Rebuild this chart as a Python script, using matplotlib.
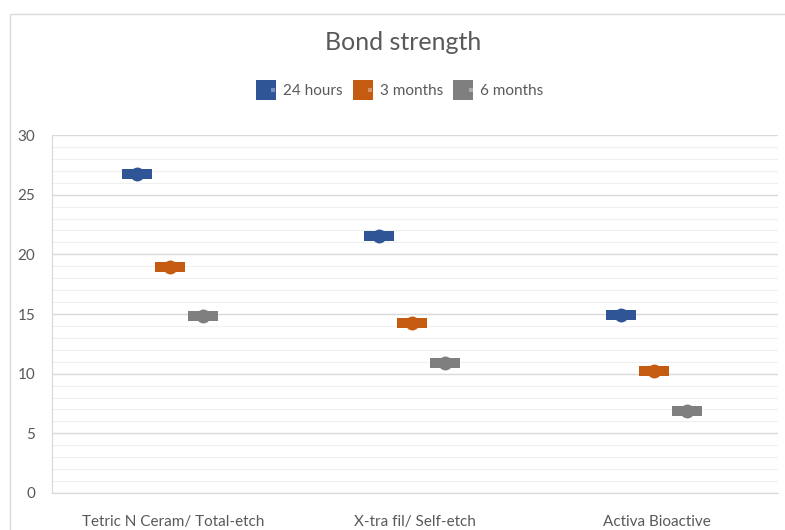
import matplotlib.pyplot as plt
import numpy as np
from matplotlib.path import Path
from matplotlib.lines import Line2D
from matplotlib.patches import Rectangle
from matplotlib.legend_handler import HandlerTuple

plt.rcParams['font.family'] = ['Lato', 'DejaVu Sans']

categories = ['Tetric N Ceram/ Total-etch', 'X-tra fil/ Self-etch', 'Activa Bioactive']
series = ['24 hours', '3 months', '6 months']
hours_24 = [26.7, 21.5, 14.9]
months_3 = [18.9, 14.25, 10.2]
months_6 = [14.8, 10.9, 6.9]
colors = ['#2F5597', '#C55A11', '#7F7F7F']

text_col = '#595959'
rect = Path([(-1.6, -0.5), (1.6, -0.5), (1.6, 0.5), (-1.6, 0.5), (-1.6, -0.5)],
            [Path.MOVETO, Path.LINETO, Path.LINETO, Path.LINETO, Path.CLOSEPOLY])

fig = plt.figure(figsize=(7.85, 5.30), dpi=100)
ax = fig.add_axes([52 / 785, 1 - 493 / 530, 726 / 785, 358 / 530])

# chart area border
fig.patches.append(Rectangle((10 / 785, -0.1), 1.2, 1.1 - 14 / 530, transform=fig.transFigure,
                             fill=False, edgecolor='#D9D9D9', lw=1))

x = np.arange(len(categories))
offsets = [-0.149, -0.012, 0.125]
for vals, col, off in zip([hours_24, months_3, months_6], colors, offsets):
    ax.plot(x + off, vals, linestyle='none', marker=rect, markersize=21.5, color=col,
            markeredgewidth=0, zorder=3)
    ax.plot(x + off, vals, linestyle='none', marker='o', markersize=10, color=col,
            markeredgewidth=0, zorder=4)

ax.set_xlim(-0.5, 2.5)
ax.set_ylim(0, 30)
ax.set_xticks(x)
ax.set_xticklabels(categories)
ax.set_yticks(range(0, 31, 5))
ax.set_yticks(range(0, 31, 1), minor=True)
ax.grid(True, which='major', axis='y', color='#D9D9D9', lw=1)
ax.grid(True, which='minor', axis='y', color='#F0F0F0', lw=0.8)
ax.set_axisbelow(True)
for s in ['top', 'right']:
    ax.spines[s].set_visible(False)
for s in ['left', 'bottom']:
    ax.spines[s].set_color('#D9D9D9')
ax.tick_params(axis='both', which='both', length=0, colors=text_col, labelsize=11)
ax.tick_params(axis='y', pad=12)
ax.tick_params(axis='x', pad=16)

fig.text(0.513, 1 - 42 / 530, 'Bond strength', ha='center', va='center', fontsize=18, color=text_col)

handles = []
for col in colors:
    big = Line2D([], [], linestyle='none', marker='s', markersize=15, color=col, markeredgewidth=0)
    small = Line2D([], [], linestyle='none', marker='s', markersize=3,
                   color='white', alpha=0.35, markeredgewidth=0)
    handles.append((big, small))
fig.legend(handles, series, handler_map={tuple: HandlerTuple(ndivide=None, pad=0)},
           loc='center', bbox_to_anchor=(0.513, 1 - 91 / 530), ncol=3, frameon=False,
           fontsize=11, labelcolor=text_col, handlelength=1.0, handletextpad=0.35,
           columnspacing=1.1)

fig.savefig('out.png', dpi=100)
